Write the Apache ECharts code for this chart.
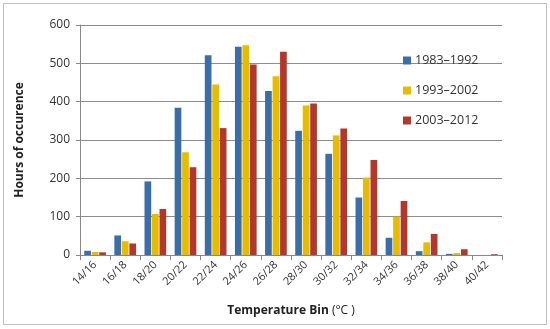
<!DOCTYPE html>
<html><head><meta charset="utf-8">
<script src="https://cdn.jsdelivr.net/npm/echarts@6/dist/echarts.min.js"></script>
<style>html,body{margin:0;padding:0;background:#fff}#c{width:550px;height:329px}</style>
</head><body><div id="c"></div>
<script>
var categories = ['14/16','16/18','18/20','20/22','22/24','24/26','26/28','28/30','30/32','32/34','34/36','36/38','38/40','40/42'];
var s1983 = [11, 51, 192, 384, 521, 543, 428, 324, 264, 150, 45, 10, 3, 0];
var s1993 = [8, 36, 107, 268, 445, 547, 466, 390, 312, 202, 100, 33, 5, 0];
var s2003 = [7, 30, 120, 229, 331, 497, 530, 395, 330, 248, 141, 55, 15, 2];
var seriesNames = ['1983\u20131992', '1993\u20132002', '2003\u20132012'];
var yTicks = [0, 100, 200, 300, 400, 500, 600];

var font = 'Open Sans, DejaVu Sans, sans-serif';
var chart = echarts.init(document.getElementById('c'), null, {renderer: 'canvas'});
chart.setOption({
  animation: false,
  textStyle: {fontFamily: font},
  color: ['#3B6EA8', '#E6BC00', '#B3382C'],
  graphic: [{type: 'rect', shape: {x: 3.5, y: 3.5, width: 543, height: 321}, style: {fill: 'none', stroke: '#c0c0c0', lineWidth: 1}}],
  grid: {left: 80, right: 48, top: 25, bottom: 74},
  legend: {
    orient: 'vertical', left: 398, top: 49, itemWidth: 8, itemHeight: 8, itemGap: 17,
    icon: 'rect', data: seriesNames, itemStyle: {borderWidth: 0},
    textStyle: {fontSize: 12.5, color: '#333', fontFamily: font, padding: [0, 0, 0, -1]}
  },
  xAxis: {
    type: 'category', data: categories,
    name: '{b|Temperature Bin} (\u00b0C )', nameLocation: 'middle', nameGap: 50,
    nameTextStyle: {fontSize: 12, color: '#222', rich: {b: {fontWeight: 'bold', fontSize: 12, color: '#222'}}},
    axisLine: {lineStyle: {color: '#888'}},
    axisTick: {show: true, alignWithLabel: false, length: 5, lineStyle: {color: '#888'}},
    axisLabel: {rotate: 45, fontSize: 11, color: '#333', margin: 8}
  },
  yAxis: {
    type: 'value', min: 0, max: 600, interval: 100,
    name: 'Hours of occurence', nameLocation: 'middle', nameGap: 54,
    nameTextStyle: {fontSize: 12, fontWeight: 'bold', color: '#222'},
    axisLine: {show: true, lineStyle: {color: '#888'}},
    axisTick: {show: true, length: 4, lineStyle: {color: '#888'}},
    axisLabel: {fontSize: 12, color: '#333', margin: 10},
    splitLine: {lineStyle: {color: '#8c8c8c'}}
  },
  series: [
    {name: seriesNames[0], type: 'bar', data: s1983, barGap: '12%', barCategoryGap: '28%'},
    {name: seriesNames[1], type: 'bar', data: s1993, barGap: '12%', barCategoryGap: '28%'},
    {name: seriesNames[2], type: 'bar', data: s2003, barGap: '12%', barCategoryGap: '28%'}
  ]
});
</script></body></html>
